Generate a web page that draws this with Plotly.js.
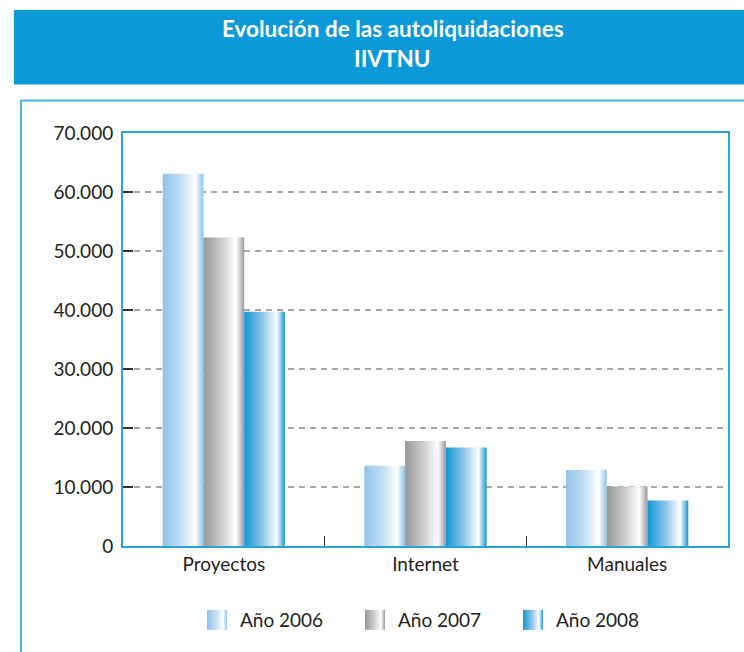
<!DOCTYPE html>
<html>
<head>
<meta charset="utf-8">
<script src="https://cdn.plot.ly/plotly-3.0.1.min.js"></script>
<style>
  html, body { margin: 0; padding: 0; background: #ffffff; }
  #chart { width: 744px; height: 652px; }
</style>
</head>
<body>
<div id="chart"></div>
<script>
// ---- data ----
const categories = ["Proyectos", "Internet", "Manuales"];
const seriesNames = ["Año 2006", "Año 2007", "Año 2008"];
const values2006 = [63100, 13600, 12900];
const values2007 = [52300, 17800, 10100];
const values2008 = [39700, 16700, 7700];
const yTickValues = [0, 10000, 20000, 30000, 40000, 50000, 60000, 70000];
const titleLine1 = "Evolución de las autoliquidaciones";
const titleLine2 = "IIVTNU";

// ---- styling ----
const FONT = "Lato, 'Open Sans', 'DejaVu Sans', sans-serif";
const TEXT = "#231f20";
const AXIS_BLUE = "#2aa2dc";
const BAND_BLUE = "#0b9ad7";
const BOX_BLUE = "#45b4e8";

// gradient stops per series (applied after render)
const gradients = [
  [["0%", "#8fc2e9"], ["45%", "#c4dff3"], ["80%", "#ffffff"], ["100%", "#8fc2e9"]],
  [["0%", "#98989c"], ["40%", "#c6c6c8"], ["80%", "#ffffff"], ["100%", "#9a9a9e"]],
  [["0%", "#1196d6"], ["45%", "#8fc6ea"], ["80%", "#ffffff"], ["100%", "#1598d7"]]
];
const fallback = ["#b5d7f1", "#c2c2c4", "#5db4e3"];

const allValues = [values2006, values2007, values2008];
const traces = allValues.map((vals, i) => ({
  type: "bar",
  name: seriesNames[i],
  x: categories,
  y: vals,
  marker: { color: fallback[i], line: { width: 0 } },
  hoverinfo: "skip"
}));

const L = 123, R = 16, T = 133, B = 106;
const W = 744, H = 652;
const pw = W - L - R, ph = H - T - B;
const px = v => (v - L) / pw;           // pixel -> paper x
const py = v => (H - B - v) / ph;       // pixel -> paper y

const layout = {
  width: W, height: H,
  margin: { l: L, r: R, t: T, b: B, pad: 0, autoexpand: false },
  paper_bgcolor: "#ffffff",
  plot_bgcolor: "#ffffff",
  font: { family: FONT, color: TEXT, size: 17 },
  separators: ",.",
  barmode: "group",
  bargap: 0.394,
  bargroupgap: 0,
  showlegend: true,
  legend: {
    orientation: "h",
    x: px(200), xanchor: "left",
    y: py(620), yanchor: "middle",
    entrywidth: 113, entrywidthmode: "pixels",
    font: { family: FONT, size: 19, color: TEXT },
    bgcolor: "rgba(0,0,0,0)",
    traceorder: "normal"
  },
  xaxis: {
    type: "category",
    showline: true, linecolor: AXIS_BLUE, linewidth: 2, mirror: true,
    ticks: "inside", tickson: "boundaries", ticklen: 10, tickwidth: 1.3, tickcolor: "#333333",
    showgrid: false, zeroline: false,
    tickfont: { family: FONT, size: 19, color: TEXT },
    fixedrange: true
  },
  yaxis: {
    range: [0, 70000],
    tickvals: yTickValues,
    tickformat: ",d",
    showline: true, linecolor: AXIS_BLUE, linewidth: 2, mirror: true,
    ticks: "inside", ticklen: 10, tickwidth: 1.3, tickcolor: "#333333",
    ticklabelstandoff: 4,
    showgrid: true, gridcolor: "#a8a8a8", gridwidth: 1.3, griddash: "6px,5px",
    zeroline: false,
    tickfont: { family: FONT, size: 19, color: TEXT },
    fixedrange: true
  },
  shapes: [
    { type: "rect", xref: "paper", yref: "paper", layer: "below",
      x0: px(14), x1: px(760), y0: py(84.5), y1: py(10),
      fillcolor: BAND_BLUE, line: { width: 0 } },
    { type: "rect", xref: "paper", yref: "paper", layer: "below",
      x0: px(21), x1: px(780), y0: py(700), y1: py(100.5),
      fillcolor: "rgba(0,0,0,0)", line: { color: BOX_BLUE, width: 2 } }
  ],
  annotations: [
    { text: "<b>" + titleLine1 + "</b>", xref: "paper", yref: "paper",
      x: px(392.5), y: py(28), xanchor: "center", yanchor: "middle",
      showarrow: false, font: { family: FONT, size: 22.5, color: "#ffffff" } },
    { text: "<b>" + titleLine2 + "</b>", xref: "paper", yref: "paper",
      x: px(392.5), y: py(59), xanchor: "center", yanchor: "middle",
      showarrow: false, font: { family: FONT, size: 22.5, color: "#ffffff" } }
  ]
};

const gd = document.getElementById("chart");
Plotly.newPlot(gd, traces, layout, { staticPlot: true, displayModeBar: false }).then(() => {
  const svg = gd.querySelector("svg.main-svg");
  const NS = "http://www.w3.org/2000/svg";
  const defs = document.createElementNS(NS, "defs");
  gradients.forEach((stops, i) => {
    const g = document.createElementNS(NS, "linearGradient");
    g.setAttribute("id", "barGrad" + i);
    g.setAttribute("x1", "0"); g.setAttribute("y1", "0");
    g.setAttribute("x2", "1"); g.setAttribute("y2", "0");
    stops.forEach(([off, col]) => {
      const s = document.createElementNS(NS, "stop");
      s.setAttribute("offset", off);
      s.setAttribute("stop-color", col);
      g.appendChild(s);
    });
    defs.appendChild(g);
  });
  svg.insertBefore(defs, svg.firstChild);

  const barTraces = gd.querySelectorAll(".barlayer .trace");
  barTraces.forEach((tr, i) => {
    tr.querySelectorAll("path").forEach(p => { p.style.fill = "url(#barGrad" + i + ")"; });
  });
  const legTraces = gd.querySelectorAll(".legend .traces");
  legTraces.forEach((tr, i) => {
    tr.querySelectorAll(".legendpoints path").forEach(p => {
      p.setAttribute("d", "M-13,-10H7V10H-13Z");
      p.style.fill = "url(#barGrad" + i + ")";
      p.style.stroke = "none";
    });
  });
});
</script>
</body>
</html>
